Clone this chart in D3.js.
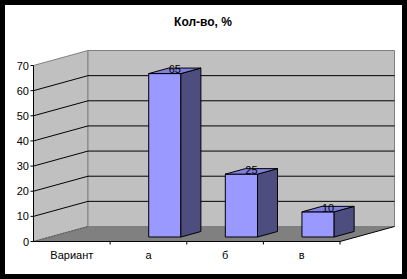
<!DOCTYPE html>
<html>
<head>
<meta charset="utf-8">
<script src="https://cdn.jsdelivr.net/npm/d3@7"></script>
<style>
  body { margin: 0; background: #000; }
  svg { display: block; font-family: 'Liberation Sans', Arial, sans-serif; }
</style>
</head>
<body>
<script>
const categories = ['Вариант', 'а', 'б', 'в']
const values = [null, 65, 25, 10]
const yTicks = [0, 10, 20, 30, 40, 50, 60, 70]
const title = 'Кол-во, %'

const W = 407, H = 279
const svg = d3.select('body').append('svg').attr('width', W).attr('height', H)

svg.append('rect').attr('width', W).attr('height', H).attr('fill', '#000')
svg.append('rect').attr('x', 5).attr('y', 5).attr('width', 397).attr('height', 269).attr('fill', '#fff')

svg.append('text')
  .attr('x', 203).attr('y', 26)
  .attr('text-anchor', 'middle')
  .attr('font-size', 12).attr('font-weight', 'bold')
  .text(title)

// oblique depth offset
const DX = 54.5, DY = -15
const x = d3.scaleBand().domain(categories).range([33.5, 340]).padding(0)
const y = d3.scaleLinear().domain([0, 70]).range([241.5, 65.5])
const p = (px, py, z) => [px + DX * z, py + DY * z]
const poly = pts => 'M' + pts.map(d => d.join(',')).join('L') + 'Z'

const x0 = x.range()[0], x1 = x.range()[1]

// side wall
svg.append('path')
  .attr('d', poly([p(x0, y(0), 0), p(x0, y(70), 0), p(x0, y(70), 1), p(x0, y(0), 1)]))
  .attr('fill', '#c0c0c0').attr('stroke', '#808080').attr('stroke-width', 1)
// back wall
svg.append('path')
  .attr('d', poly([p(x0, y(0), 1), p(x0, y(70), 1), p(x1, y(70), 1), p(x1, y(0), 1)]))
  .attr('fill', '#c0c0c0').attr('stroke', '#808080').attr('stroke-width', 1)
// floor
svg.append('path')
  .attr('d', poly([p(x0, y(0), 0), p(x0, y(0), 1), p(x1, y(0), 1), p(x1, y(0), 0)]))
  .attr('fill', '#808080').attr('stroke', 'none')
svg.append('line')
  .attr('x1', p(x0, y(0), 0)[0]).attr('y1', y(0))
  .attr('x2', p(x0, y(0), 1)[0]).attr('y2', p(x0, y(0), 1)[1])
  .attr('stroke', '#555').attr('stroke-dasharray', '2,1')
svg.append('line')
  .attr('x1', x1).attr('y1', y(0))
  .attr('x2', p(x1, y(0), 1)[0]).attr('y2', p(x1, y(0), 1)[1])
  .attr('stroke', '#000')

// gridlines
const grid = svg.append('g')
yTicks.filter(t => t > 0 && t < 70).forEach(t => {
  const a = p(x0, y(t), 0), b = p(x0, y(t), 1), c = p(x1, y(t), 1)
  grid.append('path').attr('d', 'M' + a + 'L' + b + 'L' + c)
    .attr('fill', 'none').attr('stroke', '#000').attr('stroke-width', 1)
})

// bars
const z0 = 0.3, z1 = 0.667
const bw = x.bandwidth() * 0.42
const bars = svg.append('g')
categories.forEach((c, i) => {
  const v = values[i]
  if (v == null) return
  const cx = x(c) + x.bandwidth() / 2
  const l = cx - bw / 2, r = cx + bw / 2
  const yb = y(0), yt = y(v)
  const front = [p(l, yb, z0), p(l, yt, z0), p(r, yt, z0), p(r, yb, z0)]
  const side = [p(r, yb, z0), p(r, yt, z0), p(r, yt, z1), p(r, yb, z1)]
  const top = [p(l, yt, z0), p(l, yt, z1), p(r, yt, z1), p(r, yt, z0)]
  bars.append('path').attr('d', poly(front)).attr('fill', '#9999ff').attr('stroke', '#000')
  bars.append('path').attr('d', poly(side)).attr('fill', '#4d4d80').attr('stroke', '#000')
  bars.append('path').attr('d', poly(top)).attr('fill', '#7f7fdf').attr('stroke', '#000')
  const lp = p(cx, yt, (z0 + z1) / 2)
  bars.append('text')
    .attr('x', lp[0]).attr('y', lp[1] + 2.5)
    .attr('text-anchor', 'middle').attr('font-size', 11)
    .text(v)
})

// y axis
const ya = svg.append('g')
ya.append('line').attr('x1', x0).attr('x2', x0).attr('y1', y(0)).attr('y2', y(70)).attr('stroke', '#000')
yTicks.forEach(t => {
  ya.append('line').attr('x1', x0 - 3).attr('x2', x0).attr('y1', y(t)).attr('y2', y(t)).attr('stroke', '#000')
  ya.append('text').attr('x', x0 - 4.5).attr('y', y(t) + 4)
    .attr('text-anchor', 'end').attr('font-size', 11).text(t)
})

// x axis
const xa = svg.append('g')
xa.append('line').attr('x1', x0).attr('x2', x1).attr('y1', y(0)).attr('y2', y(0)).attr('stroke', '#000')
categories.forEach(c => {
  const bx = x(c) + x.bandwidth()
  xa.append('line').attr('x1', bx).attr('x2', bx).attr('y1', y(0)).attr('y2', y(0) + 3).attr('stroke', '#000')
  xa.append('text').attr('x', x(c) + x.bandwidth() / 2).attr('y', y(0) + 17)
    .attr('text-anchor', 'middle').attr('font-size', 11).text(c)
})
</script>
</body>
</html>
